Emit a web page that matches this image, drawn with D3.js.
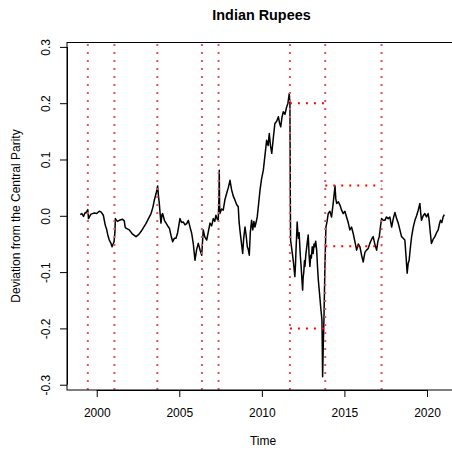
<!DOCTYPE html>
<html>
<head>
<meta charset="utf-8">
<script src="https://cdn.jsdelivr.net/npm/d3@7"></script>
<style>
  body { margin: 0; background: #fff; }
  svg { display: block; font-family: "Liberation Sans", Arial, sans-serif; }
</style>
</head>
<body>
<div id="chart"></div>
<script>

// Deviation of the rupee from the central parity
const dates = [
  1999.00, 1999.10, 1999.20, 1999.30, 1999.35, 1999.46, 1999.50, 1999.65, 1999.86, 2000.00,
  2000.15, 2000.26, 2000.40, 2000.52, 2000.60, 2000.67, 2000.76, 2000.85, 2000.93, 2001.05,
  2001.10, 2001.13, 2001.25, 2001.37, 2001.55, 2001.67, 2001.72, 2001.77, 2001.97, 2002.15,
  2002.38, 2002.55, 2002.68, 2002.85, 2002.98, 2003.15, 2003.29, 2003.40, 2003.49, 2003.60,
  2003.69, 2003.74, 2003.79, 2003.85, 2003.89, 2003.95, 2003.99, 2004.10, 2004.20, 2004.30,
  2004.40, 2004.50, 2004.60, 2004.70, 2004.80, 2004.90, 2005.04, 2005.14, 2005.24, 2005.35,
  2005.45, 2005.55, 2005.65, 2005.75, 2005.85, 2005.95, 2006.05, 2006.15, 2006.27, 2006.36,
  2006.45, 2006.55, 2006.66, 2006.76, 2006.86, 2006.96, 2007.06, 2007.15, 2007.22, 2007.30,
  2007.36, 2007.40, 2007.42, 2007.44, 2007.46, 2007.56, 2007.66, 2007.76, 2007.87, 2007.97,
  2008.07, 2008.17, 2008.27, 2008.37, 2008.47, 2008.57, 2008.62, 2008.67, 2008.75, 2008.84,
  2008.90, 2008.98, 2009.05, 2009.12, 2009.18, 2009.24, 2009.30, 2009.38, 2009.45, 2009.52,
  2009.58, 2009.65, 2009.72, 2009.80, 2009.89, 2009.98, 2010.09, 2010.18, 2010.29, 2010.38,
  2010.45, 2010.52, 2010.60, 2010.70, 2010.79, 2010.90, 2011.00, 2011.07, 2011.14, 2011.22,
  2011.30, 2011.40, 2011.50, 2011.58, 2011.66, 2011.70, 2011.72, 2011.74, 2011.82, 2011.90,
  2012.00, 2012.04, 2012.07, 2012.10, 2012.14, 2012.18, 2012.22, 2012.26, 2012.30, 2012.34,
  2012.38, 2012.42, 2012.47, 2012.50, 2012.54, 2012.58, 2012.61, 2012.66, 2012.70, 2012.76,
  2012.81, 2012.86, 2012.91, 2012.96, 2013.00, 2013.05, 2013.11, 2013.16, 2013.20, 2013.26,
  2013.32, 2013.37, 2013.42, 2013.50,
  2013.56, 2013.64, 2013.68, 2013.72, 2013.76, 2013.82, 2013.88, 2013.95, 2014.02, 2014.12,
  2014.22, 2014.32, 2014.43, 2014.48, 2014.53, 2014.63, 2014.73, 2014.83, 2014.93, 2015.03,
  2015.13, 2015.23, 2015.33, 2015.43, 2015.53, 2015.63, 2015.74, 2015.84, 2015.94, 2016.04,
  2016.14, 2016.24, 2016.34, 2016.44, 2016.54, 2016.64, 2016.74, 2016.84, 2016.95, 2017.03,
  2017.11, 2017.18, 2017.25, 2017.35, 2017.45, 2017.55, 2017.65, 2017.75, 2017.86, 2017.96,
  2018.06, 2018.16, 2018.26, 2018.36, 2018.46, 2018.56, 2018.66, 2018.74, 2018.80, 2018.86,
  2018.92, 2019.00, 2019.07, 2019.17, 2019.27, 2019.37, 2019.47, 2019.57, 2019.62, 2019.67,
  2019.77, 2019.87, 2019.97, 2020.07, 2020.12, 2020.17, 2020.22, 2020.27, 2020.37, 2020.48,
  2020.58, 2020.68, 2020.75, 2020.82, 2020.90, 2020.98, 2021.05
];
const deviation = [
  0.002, 0.004, -0.001, 0.006, 0.005, 0.011, -0.005, 0.003, 0.005, 0.004,
  0.008, 0.007, 0.001, -0.017, -0.024, -0.034, -0.043, -0.048, -0.055, -0.046,
  -0.030, -0.005, -0.010, -0.008, -0.006, -0.009, -0.020, -0.022, -0.025, -0.032,
  -0.037, -0.033, -0.028, -0.020, -0.014, -0.004, 0.004, 0.015, 0.028, 0.040,
  0.053, 0.035, 0.022, 0.000, -0.013, 0.002, 0.004, -0.008, -0.013, -0.018,
  -0.022, -0.035, -0.046, -0.040, -0.040, -0.030, -0.005, -0.012, -0.011, -0.016,
  -0.014, -0.008, -0.020, -0.031, -0.050, -0.079, -0.060, -0.049, -0.062, -0.070,
  -0.025, -0.038, -0.043, -0.028, -0.013, -0.018, -0.005, -0.010, 0.001, -0.006,
  -0.008, 0.030, 0.081, 0.020, 0.004, 0.012, 0.010, 0.028, 0.040, 0.050,
  0.063, 0.046, 0.035, 0.028, 0.020, 0.016, -0.010, -0.025, -0.045, -0.067,
  -0.040, -0.020, -0.035, -0.055, -0.060, -0.070, -0.030, -0.008, -0.025, -0.010,
  -0.020, -0.012, -0.002, 0.020, 0.046, 0.065, 0.081, 0.105, 0.134, 0.125,
  0.146, 0.125, 0.111, 0.140, 0.164, 0.168, 0.176, 0.165, 0.158, 0.175,
  0.185, 0.180, 0.193, 0.200, 0.217, 0.200, 0.050, -0.043, -0.061, -0.079,
  -0.108, -0.085, -0.060, -0.040, -0.011, -0.030, -0.040, -0.030, -0.055, -0.075,
  -0.090, -0.110, -0.132, -0.110, -0.100, -0.080, -0.090, -0.070, -0.060, -0.045,
  -0.034, -0.070, -0.090, -0.070, -0.075, -0.055, -0.067, -0.050, -0.055, -0.045,
  -0.061, -0.090, -0.114, -0.140,
  -0.161, -0.185, -0.286, -0.230, -0.185, -0.090, -0.020, -0.010, 0.004, 0.008,
  -0.002, 0.022, 0.053, 0.030, 0.022, 0.025, 0.019, 0.010, 0.004, 0.008,
  -0.002, -0.012, -0.025, -0.020, -0.031, -0.045, -0.061, -0.050, -0.055, -0.070,
  -0.082, -0.065, -0.061, -0.058, -0.049, -0.042, -0.037, -0.050, -0.061, -0.045,
  -0.037, -0.020, -0.005, -0.008, -0.008, -0.002, -0.005, -0.002, -0.020, -0.005,
  0.006, -0.005, -0.013, -0.025, -0.037, -0.040, -0.043, -0.075, -0.102, -0.085,
  -0.079, -0.055, -0.037, -0.020, -0.008, 0.000, 0.010, 0.022, 0.005, -0.008,
  0.000, 0.004, -0.002, 0.004, -0.005, -0.020, -0.035, -0.049, -0.042, -0.037,
  -0.030, -0.025, -0.015, -0.008, -0.012, -0.002, 0.002
];

// break dates (vertical dotted lines)
const breaks = [1999.46, 2001.07, 2003.67, 2006.37, 2007.38, 2011.70, 2013.84, 2017.25];

// band limits drawn as horizontal dotted segments
const bandStart = [2011.70, 2013.84];
const bandEnd = [2013.84, 2017.25];
const bandLimit = [0.2, 0.054];

const xTicks = [2000, 2005, 2010, 2015, 2020];
const yTicks = [-0.3, -0.2, -0.1, 0, 0.1, 0.2, 0.3];

const width = 452;
const height = 454;
const margin = {left: 67, right: -8, top: 42.5, bottom: 64};

const svg = d3.select("#chart")
  .append("svg")
  .attr("width", width)
  .attr("height", height);

const x = d3.scaleLinear()
  .domain([1998.2, 2022.0])
  .range([margin.left, width - margin.right]);

const y = d3.scaleLinear()
  .domain([-0.3094, 0.3078])
  .range([height - margin.bottom, margin.top]);

// clip everything to the plot box
svg.append("clipPath")
  .attr("id", "box")
  .append("rect")
  .attr("x", margin.left)
  .attr("y", margin.top)
  .attr("width", x.range()[1] - margin.left)
  .attr("height", y.range()[0] - margin.top);

const plot = svg.append("g").attr("clip-path", "url(#box)");

// series
const series = d3.zip(dates, deviation);
plot.append("path")
  .datum(series)
  .attr("fill", "none")
  .attr("stroke", "#000")
  .attr("stroke-width", 1.5)
  .attr("stroke-linejoin", "round")
  .attr("d", d3.line().x(d => x(d[0])).y(d => y(d[1])));

// vertical break lines
plot.selectAll(".brk")
  .data(breaks)
  .enter()
  .append("line")
  .attr("class", "brk")
  .attr("x1", d => x(d))
  .attr("x2", d => x(d))
  .attr("y1", y.range()[0])
  .attr("y2", y.range()[1])
  .attr("stroke", "#DF536B")
  .attr("stroke-width", 2)
  .attr("stroke-dasharray", "2,6");

// band segments, upper and lower limit
const bands = [];
bandLimit.forEach((v, i) => {
  bands.push({a: bandStart[i], b: bandEnd[i], v: v});
  bands.push({a: bandStart[i], b: bandEnd[i], v: -v});
});
plot.selectAll(".band")
  .data(bands)
  .enter()
  .append("line")
  .attr("class", "band")
  .attr("x1", d => x(d.a))
  .attr("x2", d => x(d.b))
  .attr("y1", d => y(d.v))
  .attr("y2", d => y(d.v))
  .attr("stroke", "#FF0000")
  .attr("stroke-width", 2)
  .attr("stroke-dasharray", "2,6");

// box
svg.append("rect")
  .attr("x", margin.left)
  .attr("y", margin.top)
  .attr("width", x.range()[1] - margin.left)
  .attr("height", y.range()[0] - margin.top)
  .attr("fill", "none")
  .attr("stroke", "#000")
  .attr("stroke-width", 1);

// x axis
const xAxis = svg.append("g")
  .attr("transform", `translate(0,${y.range()[0]})`)
  .call(d3.axisBottom(x).tickValues(xTicks).tickSize(7).tickPadding(4).tickFormat(d3.format("d")))
  .attr("font-size", "12px")
  .attr("font-family", null);
xAxis.select(".domain").attr("d", `M${x(2000)},0.5H${x(2020)}`);
xAxis.selectAll("text").attr("fill", "#000").attr("dy", null).attr("y", 27);

// y axis, labels turned like R does
const yAxis = svg.append("g")
  .attr("transform", `translate(${margin.left},0)`)
  .call(d3.axisLeft(y).tickValues(yTicks).tickSize(7).tickFormat(d => d.toFixed(1)))
  .attr("font-size", "12px")
  .attr("font-family", null);
yAxis.select(".domain").attr("d", `M0.5,${y(-0.3)}V${y(0.3)}`);
yAxis.selectAll("text")
  .attr("fill", "#000")
  .attr("x", null)
  .attr("dy", null)
  .attr("text-anchor", "middle")
  .attr("transform", "translate(-17,0) rotate(-90)");

// titles
svg.append("text")
  .attr("x", 261.5)
  .attr("y", 19.5)
  .attr("text-anchor", "middle")
  .attr("font-size", "14.4px")
  .attr("font-weight", "bold")
  .text("Indian Rupees");

svg.append("text")
  .attr("x", 263)
  .attr("y", 445)
  .attr("text-anchor", "middle")
  .attr("font-size", "12px")
  .text("Time");

svg.append("text")
  .attr("transform", "translate(20,216) rotate(-90)")
  .attr("text-anchor", "middle")
  .attr("font-size", "12px")
  .text("Deviation from the Central Parity");

</script>
</body>
</html>
